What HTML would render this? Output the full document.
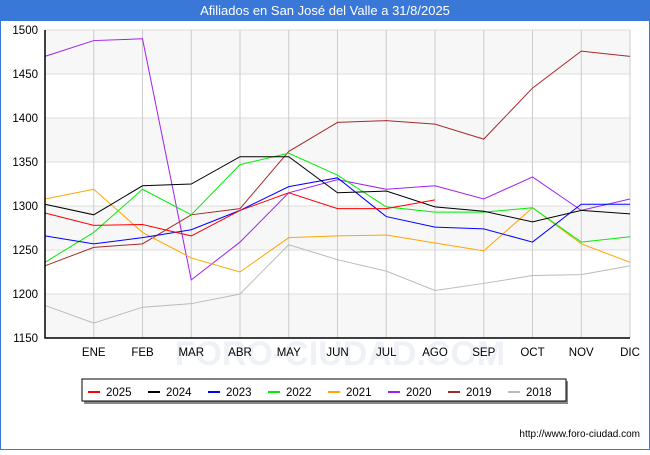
<!DOCTYPE html>
<html><head><meta charset="utf-8"><style>
body{margin:0;width:650px;height:450px;overflow:hidden;background:#fff;font-family:"Liberation Sans","DejaVu Sans",sans-serif}
</style></head><body>
<svg width="650" height="450" xmlns="http://www.w3.org/2000/svg">
<rect x="0.5" y="0.5" width="649" height="449" fill="#fff" stroke="#3a78d8"/>
<rect x="0" y="0" width="650" height="21" fill="#3a78d8"/>
<text x="325" y="15" text-anchor="middle" fill="#fff" font-size="13">Afiliados en San José del Valle a 31/8/2025</text>
<g id="bands"></g><g id="grid"></g>
<text x="340" y="365" text-anchor="middle" fill="#eef1f6" font-size="34" font-weight="bold">FORO-CIUDAD.COM</text>
<g id="series"></g><g id="axes"></g>
<g id="legend"></g>
<text x="640" y="437" text-anchor="end" font-size="10" fill="#000">http://www.foro-ciudad.com</text>
</svg>
<script>
const months=["","ENE","FEB","MAR","ABR","MAY","JUN","JUL","AGO","SEP","OCT","NOV","DIC"];
const yTicks=[1150,1200,1250,1300,1350,1400,1450,1500];
const seriesNames=["2025","2024","2023","2022","2021","2020","2019","2018"];
const seriesColors=["#ff0000","#000000","#0000ff","#00ee00","#ffa500","#a020f0","#a52a2a","#bbbbbb"];
const s2025=[1292,1278,1279,1266,1295,1315,1297,1297,1307];
const s2024=[1302,1290,1323,1325,1356,1356,1315,1317,1299,1294,1282,1295,1291];
const s2023=[1266,1257,1264,1273,1295,1322,1332,1288,1276,1274,1259,1302,1302];
const s2022=[1236,1270,1319,1290,1347,1360,1335,1299,1293,1293,1298,1259,1265];
const s2021=[1308,1319,1270,1241,1225,1264,1266,1267,1258,1249,1298,1257,1236];
const s2020=[1470,1488,1490,1216,1259,1315,1330,1319,1323,1308,1333,1295,1308];
const s2019=[1232,1253,1257,1290,1297,1362,1395,1397,1393,1376,1434,1476,1470];
const s2018=[1187,1167,1185,1189,1200,1256,1239,1226,1204,1212,1221,1222,1232];
const allSeries=[s2025,s2024,s2023,s2022,s2021,s2020,s2019,s2018];
const X0=45,X1=630,Y0=30,Y1=338,ymin=1150,ymax=1500;
const xs=i=>X0+i*(X1-X0)/(months.length-1);
const ys=v=>Y1-(v-ymin)*(Y1-Y0)/(ymax-ymin);
const NS="http://www.w3.org/2000/svg";
function mk(t,a,p){const e=document.createElementNS(NS,t);for(const k in a)e.setAttribute(k,a[k]);p.appendChild(e);return e;}
const bands=document.getElementById('bands'),grid=document.getElementById('grid'),axes=document.getElementById('axes'),ser=document.getElementById('series'),leg=document.getElementById('legend');
for(let i=0;i<yTicks.length-1;i+=2){const r=mk('rect',{x:X0,y:ys(yTicks[i+1]),width:X1-X0,height:ys(yTicks[i])-ys(yTicks[i+1]),fill:'#f7f7f7'},bands);

}
yTicks.forEach(v=>{const l=mk('line',{x1:X0,x2:X1,y1:ys(v),y2:ys(v),stroke:'#dddddd'},grid);


const t=mk('text',{x:X0-7,y:ys(v)+4,'text-anchor':'end','font-size':'11.5',fill:'#000'},axes);t.textContent=v;

});
months.forEach((m,i)=>{const l=mk('line',{x1:xs(i),x2:xs(i),y1:Y0,y2:Y1,stroke:'#cccccc'},grid);


if(m){const t=mk('text',{x:xs(i),y:Y1+18,'text-anchor':'middle','font-size':'11.5',fill:'#000'},axes);t.textContent=m;

}});
const ax=mk('path',{d:`M${X0},${Y0}V${Y1}H${X1}`,fill:'none',stroke:'#000','stroke-width':1.5},axes);


for(let k=allSeries.length-1;k>=0;k--){const d=allSeries[k].map((v,i)=>(i?'L':'M')+xs(i)+','+ys(v)).join('');
const p=mk('path',{d:d,fill:'none',stroke:seriesColors[k],'stroke-width':1},ser);

}
const lb=mk('rect',{x:84,y:381,width:484,height:23,fill:'#888'},leg);


const lbox=mk('rect',{x:82,y:379,width:484,height:22,fill:'#fff',stroke:'#000'},leg);


seriesNames.forEach((n,k)=>{const x=88+k*60;const g=mk('g',{},leg);


mk('line',{x1:x,x2:x+12,y1:392,y2:392,stroke:seriesColors[k],'stroke-width':2},g);
const t=mk('text',{x:x+18,y:396,'font-size':'11.5',fill:'#000'},g);t.textContent=n;});
</script>
</body></html>
